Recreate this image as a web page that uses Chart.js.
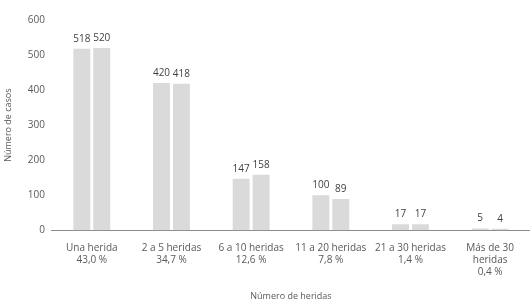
<!DOCTYPE html>
<html lang="es">
<head>
    <meta charset="UTF-8">
    <title>Número de heridas</title>
    <script src="https://cdn.jsdelivr.net/npm/chart.js"></script>
    <style>
        html, body { margin: 0; padding: 0; background: #ffffff; }
        #wrap { width: 530px; height: 302px; }
    </style>
</head>
<body>
    <div id="wrap"><canvas id="heridasChart" width="530" height="302"></canvas></div>
    <script>
        // Datos
        const categorias = [
            ['Una herida', '43,0 %'],
            ['2 a 5 heridas', '34,7 %'],
            ['6 a 10 heridas', '12,6 %'],
            ['11 a 20 heridas', '7,8 %'],
            ['21 a 30 heridas', '1,4 %'],
            ['Más de 30', 'heridas', '0,4 %']
        ];
        const serieA = [518, 420, 147, 100, 17, 5];
        const serieB = [520, 418, 158, 89, 17, 4];
        const ticksY = [0, 100, 200, 300, 400, 500, 600];

        const gris = '#595959';
        const fuente = "'Open Sans', 'DejaVu Sans', sans-serif";

        // etiquetas de valor encima de cada barra
        const etiquetas = {
            id: 'etiquetas',
            afterDatasetsDraw(chart) {
                const ctx = chart.ctx;
                ctx.save();
                ctx.font = '10px ' + fuente;
                ctx.fillStyle = '#404040';
                ctx.textAlign = 'center';
                ctx.textBaseline = 'bottom';
                chart.data.datasets.forEach((ds, i) => {
                    chart.getDatasetMeta(i).data.forEach((bar, j) => {
                        ctx.fillText(ds.data[j], bar.x, bar.y - 5);
                    });
                });
                ctx.restore();
            }
        };

        new Chart(document.getElementById('heridasChart'), {
            type: 'bar',
            data: {
                labels: categorias,
                datasets: [{
                    data: serieA,
                    backgroundColor: '#dadada',
                    categoryPercentage: 0.5,
                    barPercentage: 0.85
                }, {
                    data: serieB,
                    backgroundColor: '#dadada',
                    categoryPercentage: 0.5,
                    barPercentage: 0.85
                }]
            },
            options: {
                responsive: false,
                animation: false,
                layout: { padding: { left: 3, right: 0, top: 20, bottom: 0 } },
                plugins: {
                    legend: { display: false },
                    tooltip: { enabled: false }
                },
                scales: {
                    x: {
                        grid: { display: false, drawTicks: false },
                        border: { color: '#8c8c8c', width: 1 },
                        ticks: {
                            color: gris,
                            font: { family: fuente, size: 10 },
                            padding: 12,
                            maxRotation: 0,
                            autoSkip: false
                        },
                        title: {
                            display: true,
                            text: 'Número de heridas',
                            color: gris,
                            font: { family: fuente, size: 9 },
                            padding: { top: 1, bottom: 0 }
                        }
                    },
                    y: {
                        min: 0,
                        max: 600,
                        afterBuildTicks(axis) {
                            axis.ticks = ticksY.map(v => ({ value: v }));
                        },
                        grid: { display: false, drawTicks: false },
                        border: { display: false },
                        ticks: {
                            color: gris,
                            font: { family: fuente, size: 10 },
                            padding: 7
                        },
                        title: {
                            display: true,
                            text: 'Número de casos',
                            color: gris,
                            font: { family: fuente, size: 9 },
                            padding: { top: 0, bottom: 7 }
                        }
                    }
                }
            },
            plugins: [etiquetas]
        });
    </script>
</body>
</html>
